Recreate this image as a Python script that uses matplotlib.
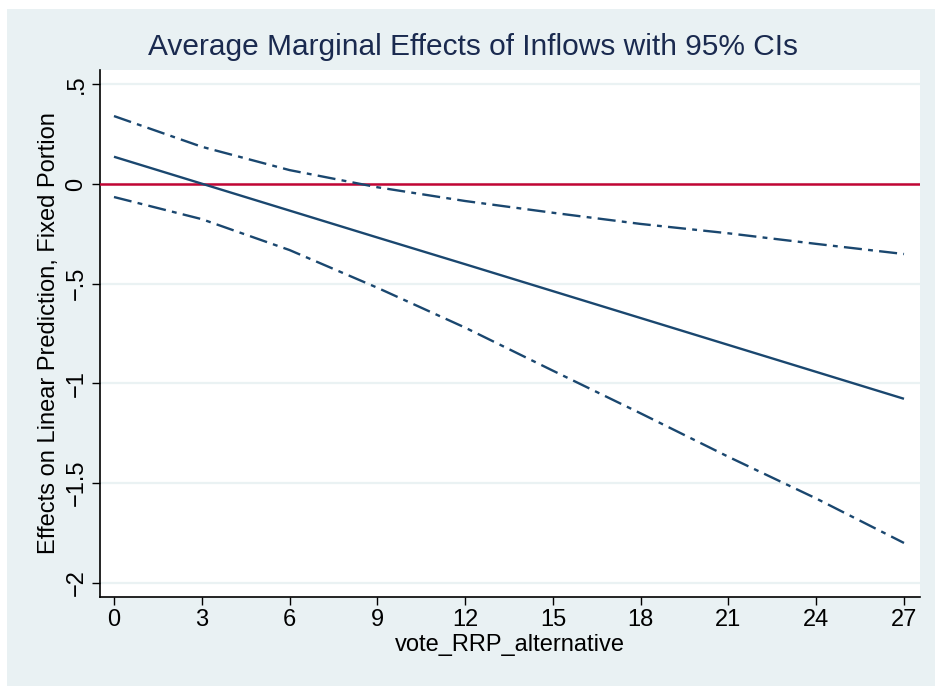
import matplotlib
matplotlib.use("Agg")
import matplotlib.pyplot as plt
from matplotlib.patches import Rectangle
from matplotlib import font_manager

# Values at each evaluation point of vote_RRP_alternative
at_values = [0, 3, 6, 9, 12, 15, 18, 21, 24, 27]
effect = [0.137, 0.002, -0.133, -0.268, -0.402, -0.537, -0.672, -0.807, -0.942, -1.077]
ci_upper = [0.341, 0.187, 0.070, -0.016, -0.085, -0.144, -0.200, -0.247, -0.300, -0.351]
ci_lower = [-0.065, -0.176, -0.331, -0.520, -0.720, -0.936, -1.150, -1.368, -1.577, -1.800]

x_ticks = [0, 3, 6, 9, 12, 15, 18, 21, 24, 27]
x_ticklabels = ["0", "3", "6", "9", "12", "15", "18", "21", "24", "27"]
y_ticks = [0.5, 0, -0.5, -1, -1.5, -2]
y_ticklabels = [".5", "0", "\u2212.5", "\u22121", "\u22121.5", "\u22122"]

title = "Average Marginal Effects of Inflows with 95% CIs"
x_label = "vote_RRP_alternative"
y_label = "Effects on Linear Prediction, Fixed Portion"

navy = "#1a476f"
cranberry = "#c10534"
region_bg = "#e9f1f3"
grid_col = "#eaf2f3"

available = {f.name for f in font_manager.fontManager.ttflist}
family = ["Liberation Sans Narrow", "Liberation Sans", "DejaVu Sans"]
family = [f for f in family if f in available] or ["DejaVu Sans"]
plt.rcParams["font.family"] = family
plt.rcParams["lines.scale_dashes"] = False

W, H = 935, 686
fig = plt.figure(figsize=(W / 100, H / 100), dpi=100, facecolor="white")

# graph region background (white margin only on top and left)
bg = Rectangle((7 / W, 0), 1 - 7 / W, 1 - 9 / H, transform=fig.transFigure,
               facecolor=region_bg, edgecolor="none", zorder=-10)
fig.add_artist(bg)

ax = fig.add_axes([100 / W, 1 - 597 / H, 820 / W, 527 / H])
ax.set_zorder(5)
ax.set_facecolor("white")

ax.set_xlim(-0.478, 27.547)
ax.set_ylim(-2.071, 0.572)

for yv in y_ticks:
    ax.axhline(yv, color=grid_col, lw=1.6, zorder=1)

ax.axhline(0, color=cranberry, lw=1.8, zorder=3)

ax.plot(at_values, effect, color=navy, lw=1.7, zorder=4, solid_capstyle="butt")
dash_dot = (0, (13, 4.5, 3.5, 4.5))
ax.plot(at_values, ci_upper, color=navy, lw=1.7, ls=dash_dot, zorder=4)
ax.plot(at_values, ci_lower, color=navy, lw=1.7, ls=dash_dot, zorder=4)

ax.set_xticks(x_ticks)
ax.set_xticklabels(x_ticklabels)
ax.set_yticks(y_ticks)
ax.set_yticklabels(y_ticklabels, rotation=90, va="center")

ax.tick_params(axis="both", direction="out", length=6, width=1, color="black",
               labelsize=17, labelcolor="black", pad=3)

for side in ("top", "right"):
    ax.spines[side].set_visible(False)
for side in ("left", "bottom"):
    ax.spines[side].set_color("black")
    ax.spines[side].set_linewidth(1.2)

ax.set_xlabel(x_label, fontsize=17, color="black", labelpad=2)
ax.set_ylabel(y_label, fontsize=17, color="black", labelpad=4)

fig.text(473 / W, 1 - 47 / H, title, fontsize=21.5, color="#1a2a4f",
         ha="center", va="center")

fig.savefig("out.png", dpi=100, facecolor="white")
